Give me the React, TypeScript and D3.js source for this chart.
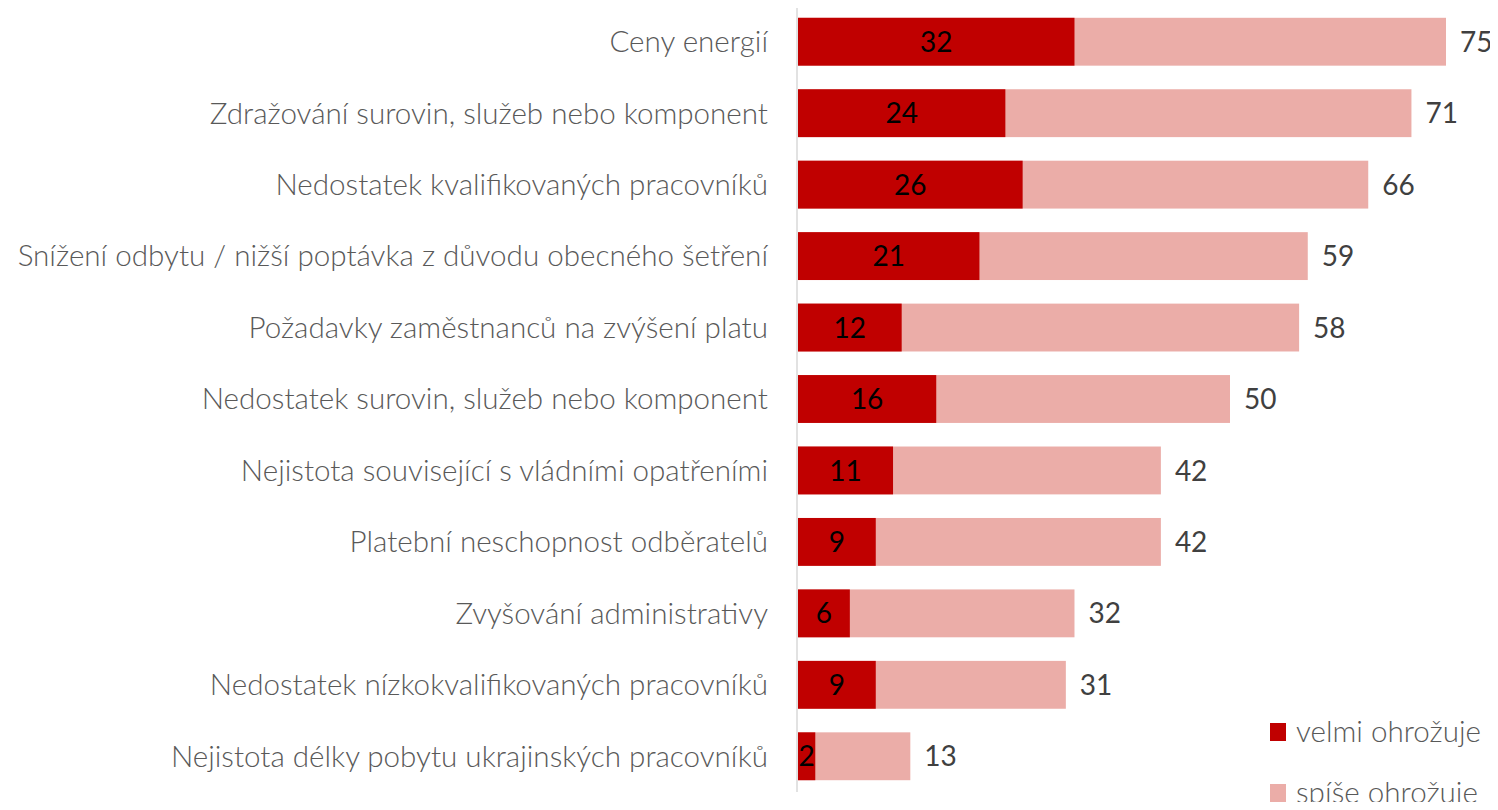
import React, { useEffect, useRef } from 'react';
import * as d3 from 'd3';

const categories = [
  'Ceny energií',
  'Zdražování surovin, služeb nebo komponent',
  'Nedostatek kvalifikovaných pracovníků',
  'Snížení odbytu / nižší poptávka z důvodu obecného šetření',
  'Požadavky zaměstnanců na zvýšení platu',
  'Nedostatek surovin, služeb nebo komponent',
  'Nejistota související s vládními opatřeními',
  'Platební neschopnost odběratelů',
  'Zvyšování administrativy',
  'Nedostatek nízkokvalifikovaných pracovníků',
  'Nejistota délky pobytu ukrajinských pracovníků',
];
// "velmi ohrožuje" values
const velmi = [32, 24, 26, 21, 12, 16, 11, 9, 6, 9, 2];
// total (velmi + spíše) values shown at bar ends
const celkem = [75, 71, 66, 59, 58, 50, 42, 42, 32, 31, 13];
const seriesNames = ['velmi ohrožuje', 'spíše ohrožuje'];
const seriesColors = ['#C00000', '#EBADA8'];

const FONT = 'Lato, "Open Sans", sans-serif';

export default function App() {
  const ref = useRef<SVGSVGElement>(null);

  useEffect(() => {
    const width = 1498;
    const height = 810;
    const svg = d3.select(ref.current);
    svg.selectAll('*').remove();
    svg.attr('width', width).attr('height', height);

    const x0 = 798;
    const xScale = d3.scaleLinear().domain([0, 75]).range([x0, 1446]);
    const yScale = d3.scaleBand<string>()
      .domain(categories)
      .range([6, 792])
      .paddingInner(0.33)
      .paddingOuter(0.165);

    const rows = categories.map((c, i) => ({ cat: c, v: velmi[i], t: celkem[i] }));

    // light (total) bars
    svg.append('g').selectAll('rect').data(rows).join('rect')
      .attr('x', xScale(0))
      .attr('y', d => yScale(d.cat)!)
      .attr('width', d => xScale(d.t) - xScale(0))
      .attr('height', yScale.bandwidth())
      .attr('fill', seriesColors[1]);

    // dark bars
    svg.append('g').selectAll('rect').data(rows).join('rect')
      .attr('x', xScale(0))
      .attr('y', d => yScale(d.cat)!)
      .attr('width', d => xScale(d.v) - xScale(0))
      .attr('height', yScale.bandwidth())
      .attr('fill', seriesColors[0]);

    // axis line
    svg.append('line')
      .attr('x1', x0 - 1).attr('x2', x0 - 1)
      .attr('y1', 8).attr('y2', 792)
      .attr('stroke', '#D9D9D9').attr('stroke-width', 1.5);

    // category labels
    svg.append('g').selectAll('text').data(rows).join('text')
      .attr('x', 768)
      .attr('y', d => yScale(d.cat)! + yScale.bandwidth() / 2)
      .attr('dy', '0.35em')
      .attr('text-anchor', 'end')
      .style('font-family', FONT)
      .style('font-size', '29.6px')
      .style('font-weight', 300)
      .attr('fill', '#595959')
      .text(d => d.cat);

    // dark value labels
    svg.append('g').selectAll('text').data(rows).join('text')
      .attr('x', d => (xScale(0) + xScale(d.v)) / 2)
      .attr('y', d => yScale(d.cat)! + yScale.bandwidth() / 2)
      .attr('dy', '0.36em')
      .attr('text-anchor', 'middle')
      .style('font-family', FONT)
      .style('font-size', '28px')
      .attr('fill', '#000')
      .text(d => d.v);

    // total labels
    svg.append('g').selectAll('text').data(rows).join('text')
      .attr('x', d => xScale(d.t) + 14)
      .attr('y', d => yScale(d.cat)! + yScale.bandwidth() / 2)
      .attr('dy', '0.36em')
      .style('font-family', FONT)
      .style('font-size', '28px')
      .attr('fill', '#404040')
      .text(d => d.t);

    // legend
    const legendBase = [742, 803];
    seriesNames.forEach((name, i) => {
      svg.append('rect')
        .attr('x', 1270).attr('y', legendBase[i] - 19)
        .attr('width', 16).attr('height', 18)
        .attr('fill', seriesColors[i]);
      svg.append('text')
        .attr('x', 1296).attr('y', legendBase[i])
        .style('font-family', FONT)
        .style('font-size', '29.6px')
        .style('font-weight', 300)
        .attr('fill', '#595959')
        .text(name);
    });
  }, []);

  return (
    <div style={{ margin: -8 }}>
      <svg ref={ref} style={{ display: 'block' }} />
    </div>
  );
}
